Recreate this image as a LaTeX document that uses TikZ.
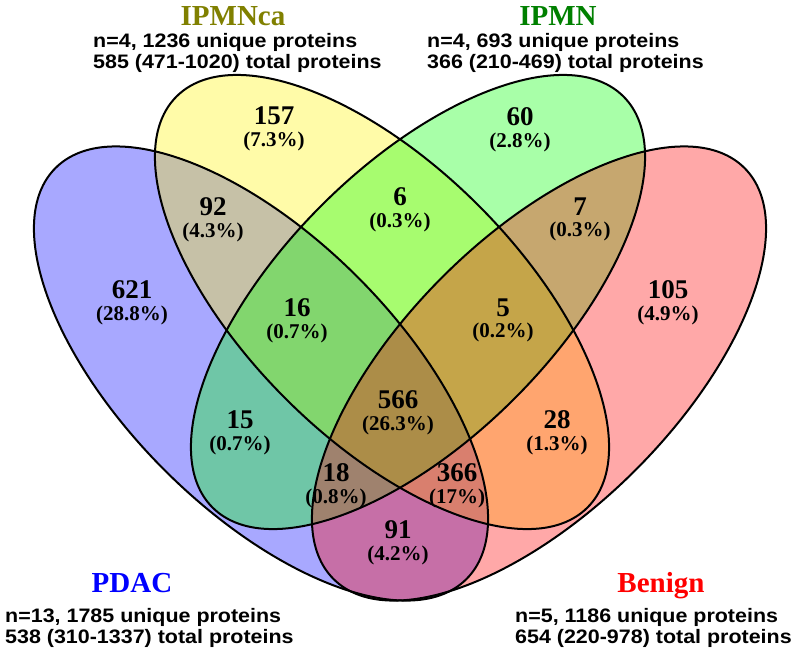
\documentclass[tikz,border=0pt]{standalone}
\usepackage{fontspec}
\setmainfont{Liberation Serif}
\newfontfamily\arialfont[FakeStretch=1.1]{Liberation Sans}

\begin{document}
\begin{tikzpicture}[x=1pt, y=-1pt,
    set/.style={fill opacity=0.34},
    rim/.style={line width=2pt},
    count/.style={inner sep=0pt, font=\bfseries\fontsize{27}{27}\selectfont},
    share/.style={inner sep=0pt, font=\bfseries\fontsize{21}{21}\selectfont},
    group/.style={inner sep=0pt, anchor=base, font=\bfseries\fontsize{29}{29}\selectfont},
    info/.style={inner sep=0pt, anchor=north west, align=left, font=\arialfont\bfseries\fontsize{19.5}{21}\selectfont},
    label distance=6pt]
  \useasboundingbox (0,0) rectangle (800,662);

  % fills first, outlines on top
  \fill[set, blue,   shift={(261,373.5)}, rotate=-45] (0,0) ellipse [x radius=290.6pt, y radius=136.5pt];
  \fill[set, yellow, shift={(382,302)},   rotate=-45] (0,0) ellipse [x radius=290.6pt, y radius=136.5pt];
  \fill[set, green,  shift={(418,302)},   rotate=45]  (0,0) ellipse [x radius=290.6pt, y radius=136.5pt];
  \fill[set, red,    shift={(539,373.5)}, rotate=45]  (0,0) ellipse [x radius=290.6pt, y radius=136.5pt];
  \draw[rim, shift={(261,373.5)}, rotate=-45] (0,0) ellipse [x radius=290.6pt, y radius=136.5pt];
  \draw[rim, shift={(382,302)},   rotate=-45] (0,0) ellipse [x radius=290.6pt, y radius=136.5pt];
  \draw[rim, shift={(418,302)},   rotate=45]  (0,0) ellipse [x radius=290.6pt, y radius=136.5pt];
  \draw[rim, shift={(539,373.5)}, rotate=45]  (0,0) ellipse [x radius=290.6pt, y radius=136.5pt];

  % region counts
  \node (r157) [count, label={[share]below:{(7.3\%)}}]  at (274,116) {157};
  \node (r60)  [count, label={[share]below:{(2.8\%)}}]  at (520,117) {60};
  \node (r92)  [count, label={[share]below:{(4.3\%)}}]  at (213,207) {92};
  \node (r6)   [count, label={[share]below:{(0.3\%)}}]  at (400,197) {6};
  \node (r7)   [count, label={[share]below:{(0.3\%)}}]  at (580,207) {7};
  \node (r621) [count, label={[share]below:{(28.8\%)}}] at (132,290) {621};
  \node (r105) [count, label={[share]below:{(4.9\%)}}]  at (668,290) {105};
  \node (r16)  [count, label={[share]below:{(0.7\%)}}]  at (297,308) {16};
  \node (r5)   [count, label={[share]below:{(0.2\%)}}]  at (503,308) {5};
  \node (r566) [count, label={[share]below:{(26.3\%)}}] at (398,400) {566};
  \node (r15)  [count, label={[share]below:{(0.7\%)}}]  at (240,420) {15};
  \node (r28)  [count, label={[share]below:{(1.3\%)}}]  at (557,420) {28};
  \node (r18)  [count, label={[share]below:{(0.8\%)}}]  at (336,473) {18};
  \node (r366) [count, label={[share]below:{(17\%)}}]   at (457,473) {366};
  \node (r91)  [count, label={[share]below:{(4.2\%)}}]  at (398,530) {91};

  % group names and sample sizes
  \node (ipmnca) [group, text={rgb,255:red,128;green,128;blue,0}] at (233,25) {IPMNca};
  \node (ipmn)   [group, text={rgb,255:red,0;green,128;blue,0}]   at (558,25) {IPMN};
  \node (pdac)   [group, text=blue] at (132,592) {PDAC};
  \node (benign) [group, text=red]  at (661,592) {Benign};
  \node (ipmnca-info) [info] at (93,33)  {n=4, 1236 unique proteins\\585 (471-1020) total proteins};
  \node (ipmn-info)   [info] at (427,33) {n=4, 693 unique proteins\\366 (210-469) total proteins};
  \node (pdac-info)   [info] at (5,608)  {n=13, 1785 unique proteins\\538 (310-1337) total proteins};
  \node (benign-info) [info] at (515,608) {n=5, 1186 unique proteins\\654 (220-978) total proteins};
\end{tikzpicture}
\end{document}
